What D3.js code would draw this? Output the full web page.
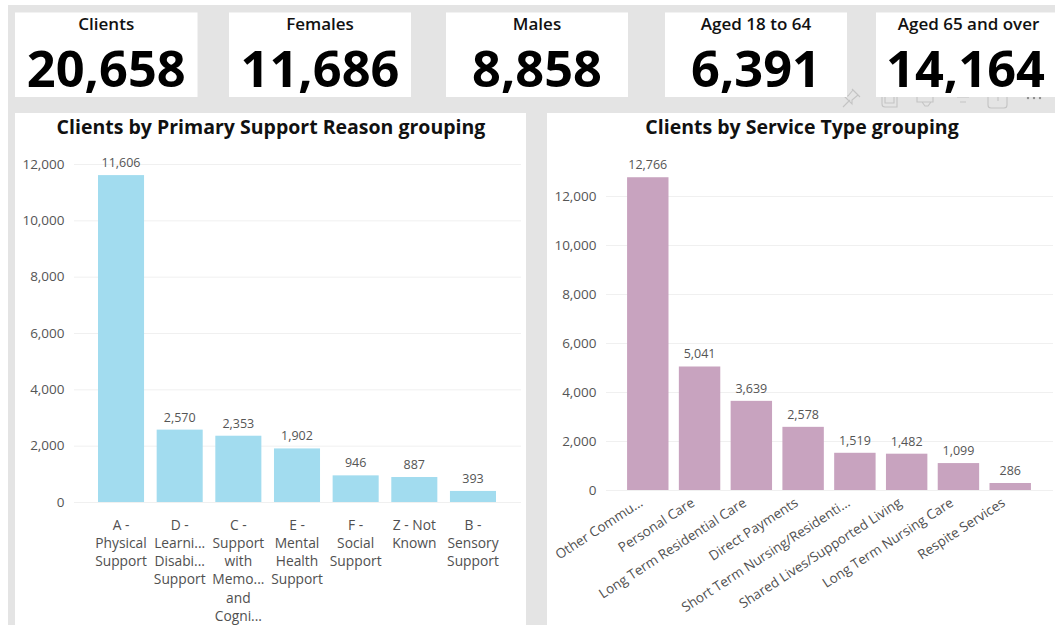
<!DOCTYPE html>
<html>
<head>
<meta charset="utf-8">
<script src="https://cdnjs.cloudflare.com/ajax/libs/d3/7.8.5/d3.min.js"></script>
<style>
  html, body { margin: 0; padding: 0; background: #fff; overflow: hidden; }
  text { font-family: "Open Sans", "Noto Sans", sans-serif; }
</style>
</head>
<body>
<svg id="report" width="1055" height="625"></svg>
<script>
// Headline figures
const kpiLabels = ["Clients", "Females", "Males", "Aged 18 to 64", "Aged 65 and over"];
const kpiValues = [20658, 11686, 8858, 6391, 14164];

// Clients by primary support reason
const reasonLines = [
  ["A -", "Physical", "Support"],
  ["D -", "Learni...", "Disabi...", "Support"],
  ["C -", "Support", "with", "Memo...", "and", "Cogni..."],
  ["E -", "Mental", "Health", "Support"],
  ["F -", "Social", "Support"],
  ["Z - Not", "Known"],
  ["B -", "Sensory", "Support"]
];
const reasonValues = [11606, 2570, 2353, 1902, 946, 887, 393];
const reasonTicks = [0, 2000, 4000, 6000, 8000, 10000, 12000];

// Clients by service type
const serviceLabels = [
  "Other Commu...", "Personal Care", "Long Term Residential Care", "Direct Payments",
  "Short Term Nursing/Residenti...", "Shared Lives/Supported Living",
  "Long Term Nursing Care", "Respite Services"
];
const serviceValues = [12766, 5041, 3639, 2578, 1519, 1482, 1099, 286];
const serviceTicks = [0, 2000, 4000, 6000, 8000, 10000, 12000];

const svg = d3.select("#report");
const fmt = d3.format(",");

// Page backdrop
svg.append("rect").attr("x", 8).attr("y", 5).attr("width", 1047).attr("height", 620).attr("fill", "#e4e4e4");

// Visual header icons, faint, sitting behind the cards
const icons = svg.append("g").attr("fill", "none").attr("stroke", "#c4c4c4").attr("stroke-width", 1.1);
icons.append("path").attr("d", "M843 107 L850 100 M852 89 L860 97 M853 90 L848 96 L844 96 L852 104 L852 100 L858 95");
icons.append("path").attr("d", "M882 96 V104 Q882 107 885 107 H897 V96 M885 96 V103 H894 V96");
icons.append("path").attr("d", "M917 96 V102 H933 V96 M922 102 L925 106 H928 L931 102");
icons.append("path").attr("d", "M957 97 H969 M960 102 H966");
icons.append("path").attr("d", "M988 96 V105 Q988 108 991 108 H1004 Q1007 108 1007 105 V96 M998 96 V101");
icons.append("g").attr("fill", "#8f8f8f").attr("stroke", "none")
  .selectAll("circle").data([1028, 1034, 1040]).join("circle")
  .attr("cx", d => d).attr("cy", 98).attr("r", 1.2);

// KPI cards
const cardEdges = [[15, 197.5], [229, 411], [446, 628], [665, 847], [876, 1055]];
const labelShift = [0, 0, 0, 0, 3];
const cards = svg.append("g").selectAll("g").data(kpiLabels).join("g");
cards.append("rect")
  .attr("x", (d, i) => cardEdges[i][0]).attr("y", 12.5)
  .attr("width", (d, i) => cardEdges[i][1] - cardEdges[i][0]).attr("height", 84.5)
  .attr("fill", "#fff");
cards.append("text")
  .attr("x", (d, i) => (cardEdges[i][0] + cardEdges[i][1]) / 2 + labelShift[i]).attr("y", 29.5)
  .attr("text-anchor", "middle").attr("font-size", 17).attr("font-weight", 600).attr("fill", "#111")
  .text(d => d);
cards.append("text")
  .attr("x", (d, i) => (cardEdges[i][0] + cardEdges[i][1]) / 2).attr("y", 87)
  .attr("text-anchor", "middle").attr("font-size", 50.5).attr("font-weight", 700).attr("fill", "#000")
  .text((d, i) => fmt(kpiValues[i]));

// Shared column chart: white panel, title, gridlines, value axis, bars and data labels
function columnPanel(o) {
  const g = svg.append("g");
  g.append("rect").attr("x", o.panel[0]).attr("y", 113)
    .attr("width", o.panel[1] - o.panel[0]).attr("height", 512).attr("fill", "#fff");
  g.append("text").attr("x", o.titleX).attr("y", 134)
    .attr("text-anchor", "middle").attr("font-size", 19.5).attr("font-weight", 700).attr("fill", "#111")
    .text(o.title);

  const x = d3.scaleBand().domain(d3.range(o.values.length)).range(o.xRange)
    .paddingInner(o.gap).paddingOuter(o.gap / 2);
  const y = d3.scaleLinear().domain([0, 12000]).range(o.yRange);

  const yAxis = d3.axisLeft(y).tickValues(o.ticks).tickFormat(fmt)
    .tickSize(-(o.gridEnd - o.gridStart)).tickPadding(9.5);
  const ya = g.append("g").attr("transform", `translate(${o.gridStart},0)`).call(yAxis);
  ya.select(".domain").remove();
  ya.selectAll("line").attr("stroke", "#f0f0f0").attr("stroke-width", 1);
  ya.selectAll("text").attr("font-size", 13.5).attr("fill", "#555");

  g.append("g").selectAll("rect").data(o.values).join("rect")
    .attr("x", (d, i) => x(i)).attr("width", x.bandwidth())
    .attr("y", d => y(d)).attr("height", d => y(0) - y(d))
    .attr("fill", o.color);

  g.append("g").selectAll("text").data(o.values).join("text")
    .attr("x", (d, i) => x(i) + x.bandwidth() / 2).attr("y", d => y(d) - 8)
    .attr("text-anchor", "middle").attr("font-size", 12.5).attr("fill", "#555")
    .text(fmt);
  return { g, x, y };
}

const left = columnPanel({
  panel: [15, 526], title: "Clients by Primary Support Reason grouping", titleX: 271,
  values: reasonValues, ticks: reasonTicks, color: "#a2dcef",
  xRange: [91.7, 502.3], gap: 0.215, yRange: [502, 164], gridStart: 74, gridEnd: 521
});

// Wrapped category labels under the left chart
left.g.append("g").selectAll("text").data(reasonLines).join("text")
  .attr("text-anchor", "middle").attr("font-size", 13.8).attr("fill", "#505050")
  .attr("transform", (d, i) => `translate(${left.x(i) + left.x.bandwidth() / 2},0)`)
  .selectAll("tspan").data(d => d).join("tspan")
  .attr("x", 0).attr("y", (d, i) => 529.5 + i * 18.3).text(d => d);

const right = columnPanel({
  panel: [547, 1055], title: "Clients by Service Type grouping", titleX: 802,
  values: serviceValues, ticks: serviceTicks, color: "#c8a3bf",
  xRange: [621.9, 1036.1], gap: 0.2, yRange: [490, 196], gridStart: 606, gridEnd: 1053
});

// Slanted category labels under the right chart
right.g.append("g").selectAll("text").data(serviceLabels).join("text")
  .attr("text-anchor", "end").attr("font-size", 13.5).attr("fill", "#505050")
  .attr("transform", (d, i) => `translate(${right.x(i) + right.x.bandwidth() / 2 - 4},505) rotate(-33)`)
  .text(d => d);
</script>
</body>
</html>
